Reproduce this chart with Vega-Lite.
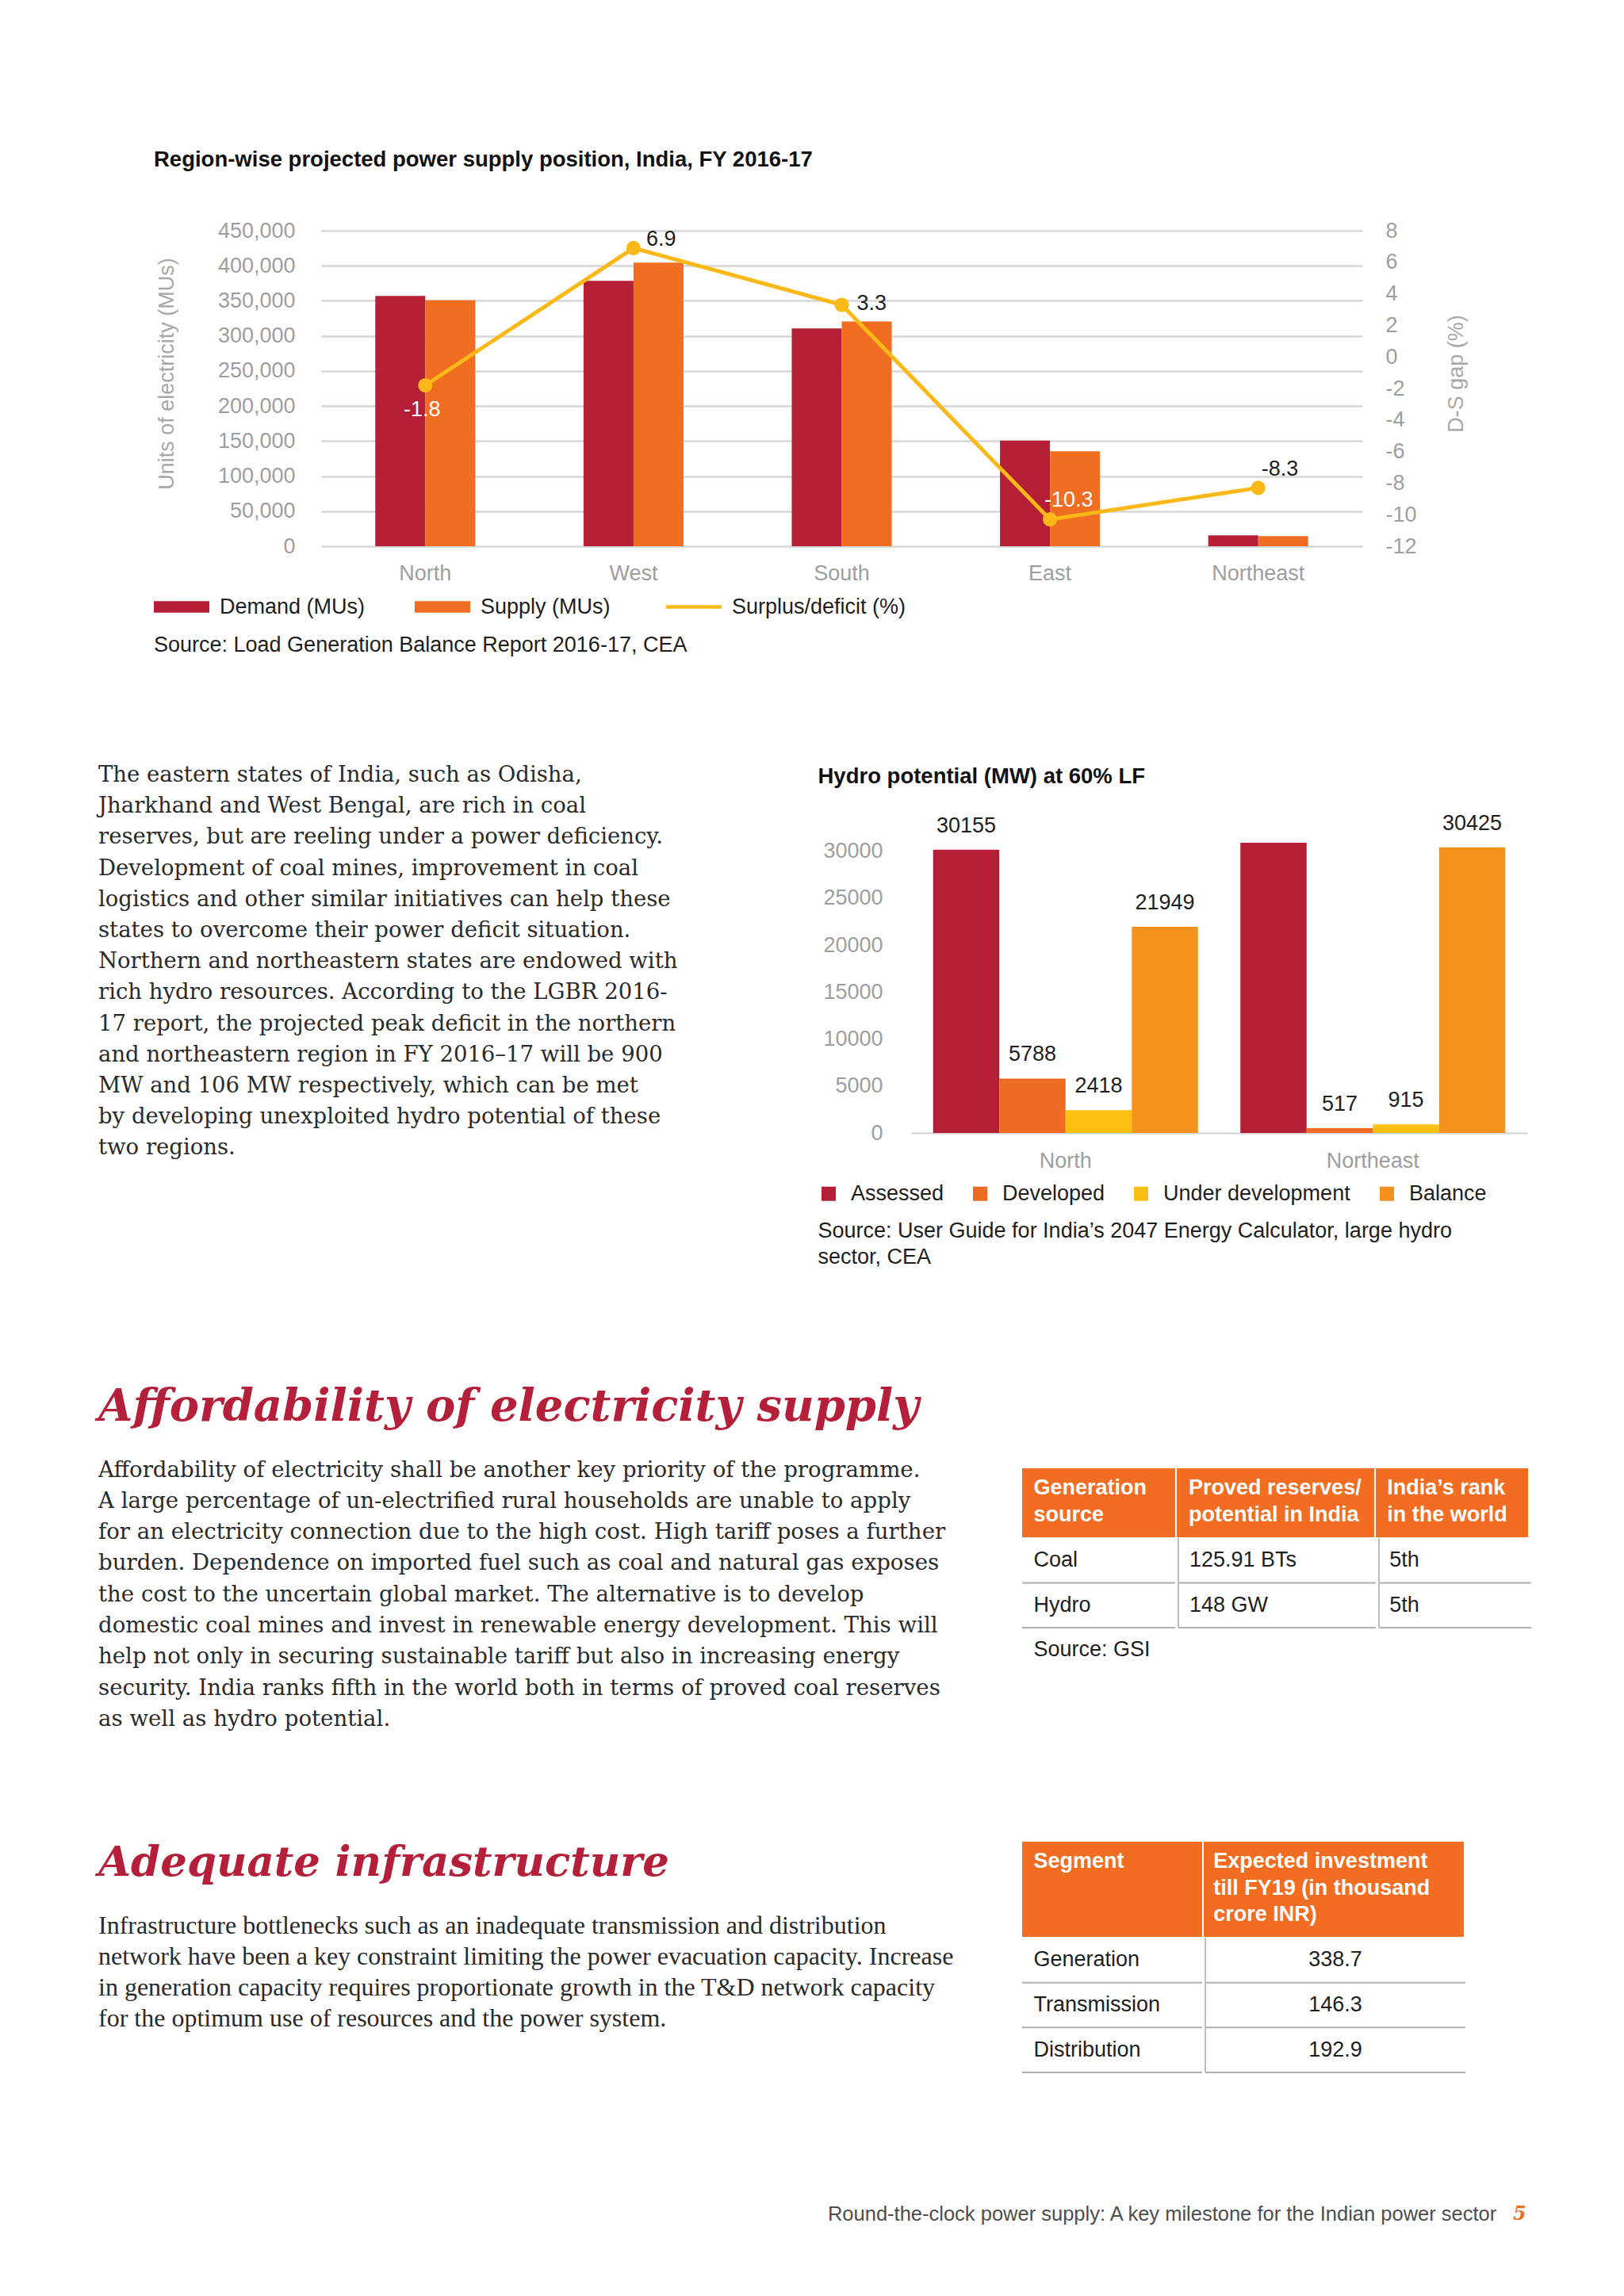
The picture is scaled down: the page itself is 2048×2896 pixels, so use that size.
{
  "$schema": "https://vega.github.io/schema/vega-lite/v6.json",
  "background": "white",
  "padding": {"left": 124, "top": 187, "right": 20, "bottom": 40},
  "config": {
    "font": "Liberation Sans",
    "view": {"stroke": null},
    "locale": {"number": {"decimal": ".", "thousands": ",", "grouping": [3], "currency": ["$", ""], "minus": "-"}}
  },
  "resolve": {"scale": {"color": "independent", "xOffset": "independent"}, "legend": {"color": "independent"}},
  "datasets": {
    "supply": [
      {"region": "North", "series": "Demand (MUs)", "value": 357000},
      {"region": "North", "series": "Supply  (MUs)", "value": 350900},
      {"region": "West", "series": "Demand (MUs)", "value": 378600},
      {"region": "West", "series": "Supply  (MUs)", "value": 404500},
      {"region": "South", "series": "Demand (MUs)", "value": 310600},
      {"region": "South", "series": "Supply  (MUs)", "value": 320400},
      {"region": "East", "series": "Demand (MUs)", "value": 150700},
      {"region": "East", "series": "Supply  (MUs)", "value": 135500},
      {"region": "Northeast", "series": "Demand (MUs)", "value": 15600},
      {"region": "Northeast", "series": "Supply  (MUs)", "value": 14300}
    ],
    "gap": [
      {"region": "North", "gap": -1.8},
      {"region": "West", "gap": 6.9},
      {"region": "South", "gap": 3.3},
      {"region": "East", "gap": -10.3},
      {"region": "Northeast", "gap": -8.3}
    ],
    "hydro": [
      {"region": "North", "category": "Assessed", "value": 30155},
      {"region": "North", "category": "Developed", "value": 5788},
      {"region": "North", "category": "Under development", "value": 2418},
      {"region": "North", "category": "Balance", "value": 21949},
      {"region": "Northeast", "category": "Assessed", "value": 30900},
      {"region": "Northeast", "category": "Developed", "value": 517},
      {"region": "Northeast", "category": "Under development", "value": 915},
      {"region": "Northeast", "category": "Balance", "value": 30425}
    ]
  },
  "spacing": 120,
  "vconcat": [
    {
      "spacing": 0,
      "resolve": {"scale": {"color": "independent", "xOffset": "independent"}, "legend": {"color": "independent"}},
      "hconcat": [
        {"width": 70, "height": 552.7, "view": {"fill": "transparent", "stroke": null}, "data": {"values": []}, "mark": "point"},
        {
          "width": 1313,
          "height": 398,
          "title": {"text": "Region-wise projected power supply position, India, FY 2016-17", "anchor": "start", "frame": "bounds", "fontSize": 27.5, "fontWeight": "bold", "color": "#111111", "offset": 62, "baseline": "top"},
          "layer": [
            {
              "data": {"name": "supply"},
              "mark": {"type": "bar"},
              "encoding": {
                "x": {"field": "region", "type": "nominal", "sort": ["North", "West", "South", "East", "Northeast"], "scale": {"paddingInner": 0.52, "paddingOuter": 0.26},
                  "axis": {"title": null, "labelAngle": 0, "labelFontSize": 27, "labelColor": "#9E9E9E", "labelPadding": 34, "labelBaseline": "middle", "domain": false, "ticks": false, "tickSize": 0, "grid": false}},
                "xOffset": {"field": "series", "type": "nominal", "sort": ["Demand (MUs)", "Supply  (MUs)"], "scale": {"paddingInner": 0, "paddingOuter": 0}},
                "y": {"field": "value", "type": "quantitative", "scale": {"domain": [0, 450000], "nice": false},
                  "axis": {"title": "Units of electricity (MUs)", "values": [0, 50000, 100000, 150000, 200000, 250000, 300000, 350000, 400000, 450000], "format": ",d", "grid": true, "gridColor": "#D6D6D6", "gridWidth": 2.5, "domain": false, "ticks": false, "tickSize": 0, "labelPadding": 33, "labelFontSize": 27, "labelColor": "#9E9E9E", "titleFontSize": 27, "titleFontWeight": "normal", "titleColor": "#A8A8A8", "titleAngle": 270, "titleX": -195, "titleY": 180, "titleBaseline": "middle", "titleAlign": "center"}},
                "color": {"field": "series", "type": "nominal",
                  "scale": {"domain": ["Demand (MUs)", "Supply  (MUs)", "Surplus/deficit (%)"], "range": ["#B41F35", "#F06D21", "#FBB817"]},
                  "legend": {"orient": "none", "legendX": -211, "legendY": 439.5, "direction": "horizontal", "padding": 0,
                    "title": "Source: Load Generation Balance Report 2016-17, CEA", "titleOrient": "bottom", "titleAnchor": "start", "titlePadding": 22.5, "titleFontSize": 27, "titleFontWeight": "normal", "titleColor": "#1E1E1E", "titleLimit": 3000,
                    "labelFontSize": 27, "labelColor": "#1E1E1E", "labelOffset": 13, "labelLimit": 1000, "columnPadding": 62,
                    "symbolSize": 4900, "symbolType": "M-1,-0.21H1V0.21H-1Z", "symbolStrokeWidth": 0, "symbolOpacity": 1,
                    "encode": {"symbols": {"update": {"shape": {"signal": "datum.value === 'Surplus/deficit (%)' ? 'M-1,-0.065H1V0.065H-1Z' : 'M-1,-0.21H1V0.21H-1Z'"}}}}}}
              }
            },
            {
              "data": {"name": "gap"},
              "encoding": {
                "x": {"field": "region", "type": "nominal", "sort": ["North", "West", "South", "East", "Northeast"],
                  "axis": {"title": null, "labelAngle": 0, "labelFontSize": 27, "labelColor": "#9E9E9E", "labelPadding": 34, "labelBaseline": "middle", "domain": false, "ticks": false, "tickSize": 0, "grid": false}},
                "y": {"field": "gap", "type": "quantitative", "scale": {"domain": [-12, 8], "nice": false, "zero": false},
                  "axis": {"orient": "right", "title": "D-S gap (%)", "values": [-12, -10, -8, -6, -4, -2, 0, 2, 4, 6, 8], "grid": false, "domain": false, "ticks": false, "tickSize": 0, "labelPadding": 29, "labelFontSize": 27, "labelColor": "#9E9E9E", "titleFontSize": 27, "titleFontWeight": "normal", "titleColor": "#A8A8A8", "titleAngle": 270, "titleX": 118, "titleY": 180, "titleBaseline": "middle", "titleAlign": "center"}}
              },
              "layer": [
                {"mark": {"type": "line", "color": "#FBB817", "strokeWidth": 5}, "encoding": {}},
                {"mark": {"type": "circle", "color": "#FBB817", "size": 330, "opacity": 1}, "encoding": {}},
                {"transform": [{"filter": "datum.region === 'West'"}], "mark": {"type": "text", "align": "left", "baseline": "middle", "dx": 16, "dy": -11, "fontSize": 27, "color": "#1E1E1E"}, "encoding": {"text": {"field": "gap", "type": "quantitative", "format": ".1f"}}},
                {"transform": [{"filter": "datum.region === 'South'"}], "mark": {"type": "text", "align": "left", "baseline": "middle", "dx": 19, "dy": -2, "fontSize": 27, "color": "#1E1E1E"}, "encoding": {"text": {"field": "gap", "type": "quantitative", "format": ".1f"}}},
                {"transform": [{"filter": "datum.region === 'Northeast'"}], "mark": {"type": "text", "align": "left", "baseline": "middle", "dx": 4, "dy": -23, "fontSize": 27, "color": "#1E1E1E"}, "encoding": {"text": {"field": "gap", "type": "quantitative", "format": ".1f"}}},
                {"transform": [{"filter": "datum.region === 'East'"}], "mark": {"type": "text", "align": "left", "baseline": "middle", "dx": -7, "dy": -24, "fontSize": 27, "color": "#FFFFFF"}, "encoding": {"text": {"field": "gap", "type": "quantitative", "format": ".1f"}}},
                {"transform": [{"filter": "datum.region === 'North'"}], "mark": {"type": "text", "align": "center", "baseline": "middle", "dx": -4, "dy": 31, "fontSize": 27, "color": "#FFFFFF"}, "encoding": {"text": {"field": "gap", "type": "quantitative", "format": ".1f"}}}
              ]
            }
          ],
          "resolve": {"scale": {"y": "independent"}}
        }
      ]
    },
    {
      "spacing": 87,
      "resolve": {"scale": {"color": "independent", "xOffset": "independent"}, "legend": {"color": "independent"}},
      "hconcat": [
        {
          "width": 820, "height": 1, "data": {"values": []}, "mark": "point",
          "title": {"text": [
            "The eastern states of India, such as Odisha,",
            "Jharkhand and West Bengal, are rich in coal",
            "reserves, but are reeling under a power deficiency.",
            "Development of coal mines, improvement in coal",
            "logistics and other similar initiatives can help these",
            "states to overcome their power deficit situation.",
            "Northern and northeastern states are endowed with",
            "rich hydro resources. According to the LGBR 2016-",
            "17 report, the projected peak deficit in the northern",
            "and northeastern region in FY 2016–17 will be 900",
            "MW and 106 MW respectively, which can be met",
            "by developing unexploited hydro potential of these",
            "two regions."],
            "orient": "bottom", "anchor": "start", "frame": "group", "font": "DejaVu Serif", "fontSize": 27.5, "fontWeight": "normal", "color": "#2A2A2A", "lineHeight": 39.2, "offset": -100, "baseline": "top"}
        },
        {
          "width": 777,
          "height": 366,
          "title": {"text": "Hydro potential (MW) at 60% LF", "anchor": "start", "frame": "bounds", "fontSize": 27.5, "fontWeight": "bold", "color": "#111111", "offset": 31.4, "baseline": "top"},
          "data": {"name": "hydro"},
          "encoding": {
            "x": {"field": "region", "type": "nominal", "sort": ["North", "Northeast"], "scale": {"paddingInner": 0.138, "paddingOuter": 0.0715},
              "axis": {"title": null, "labelAngle": 0, "labelFontSize": 27, "labelColor": "#9E9E9E", "labelPadding": 35, "labelBaseline": "middle", "domain": true, "domainColor": "#CFCFCF", "domainWidth": 2, "ticks": false, "tickSize": 0, "grid": false}},
            "xOffset": {"field": "category", "type": "nominal", "sort": ["Assessed", "Developed", "Under development", "Balance"], "scale": {"paddingInner": 0, "paddingOuter": 0}},
            "y": {"field": "value", "type": "quantitative", "scale": {"domain": [0, 30900], "nice": false},
              "axis": {"title": null, "values": [0, 5000, 10000, 15000, 20000, 25000, 30000], "format": "d", "grid": false, "domain": false, "ticks": false, "tickSize": 0, "labelPadding": 36, "labelFontSize": 27, "labelColor": "#9E9E9E"}}
          },
          "layer": [
            {
              "mark": {"type": "bar"},
              "encoding": {
                "color": {"field": "category", "type": "nominal",
                  "scale": {"domain": ["Assessed", "Developed", "Under development", "Balance"], "range": ["#B41F35", "#EF6A22", "#FDBF13", "#F5921E"]},
                  "legend": {"orient": "none", "legendX": -117.5, "legendY": 429, "direction": "horizontal", "padding": 0,
                    "title": ["Source: User Guide for India’s 2047 Energy Calculator, large hydro", "sector, CEA"], "titleOrient": "bottom", "titleAnchor": "start", "titlePadding": 21, "titleFontSize": 27, "titleFontWeight": "normal", "titleColor": "#1E1E1E", "titleLineHeight": 33, "titleLimit": 3000,
                    "labelFontSize": 27, "labelColor": "#1E1E1E", "labelOffset": 14.5, "labelLimit": 1000, "columnPadding": 32,
                    "symbolType": "square", "symbolSize": 324, "symbolStrokeWidth": 0, "symbolOpacity": 1}}
              }
            },
            {
              "transform": [{"filter": "!(datum.region === 'Northeast' && datum.category === 'Assessed')"}],
              "mark": {"type": "text", "baseline": "middle", "dy": -30, "fontSize": 27, "color": "#1E1E1E"},
              "encoding": {"text": {"field": "value", "type": "quantitative", "format": "d"}}
            }
          ]
        },
        {"width": 1, "height": 563.2, "view": {"fill": "transparent", "stroke": null}, "data": {"values": []}, "mark": "point"}
      ]
    },
    {
      "spacing": 9,
      "hconcat": [
        {
          "width": 1154.3, "height": 1, "data": {"values": []}, "mark": "point",
          "title": {"text": "Affordability of electricity supply",
            "subtitle": [
              "Affordability of electricity shall be another key priority of the programme.",
              "A large percentage of un-electrified rural households are unable to apply",
              "for an electricity connection due to the high cost. High tariff poses a further",
              "burden. Dependence on imported fuel such as coal and natural gas exposes",
              "the cost to the uncertain global market. The alternative is to develop",
              "domestic coal mines and invest in renewable energy development. This will",
              "help not only in securing sustainable tariff but also in increasing energy",
              "security. India ranks fifth in the world both in terms of proved coal reserves",
              "as well as hydro potential."],
            "orient": "bottom", "anchor": "start", "frame": "group", "font": "DejaVu Serif", "fontSize": 56, "fontStyle": "italic", "fontWeight": "bold", "color": "#B41F3A",
            "subtitleFont": "DejaVu Serif", "subtitleFontSize": 27.6, "subtitleFontWeight": "normal", "subtitleColor": "#2A2A2A", "subtitleLineHeight": 39.3, "subtitlePadding": 36.5, "offset": -104.9, "baseline": "top"}
        },
        {
          "spacing": 0,
          "vconcat": [
            {
              "spacing": 2,
              "hconcat": [
                {"width": 193, "height": 87, "view": {"fill": "#F26C22", "stroke": null},
                  "data": {"values": [{"col": "Generation source", "text": "Generation\nsource"}]},
                  "mark": {"type": "text", "align": "left", "baseline": "top", "dx": -82.1, "dy": -31.1, "fontSize": 27, "fontWeight": "bold", "color": "#FFFFFF", "lineBreak": "\n", "lineHeight": 33.2},
                  "encoding": {"x": {"field": "col", "type": "nominal", "axis": null, "scale": {"paddingInner": 0, "paddingOuter": 0}}, "y": {"field": "col", "type": "nominal", "axis": null, "scale": {"paddingInner": 0, "paddingOuter": 0}}, "text": {"field": "text"}}},
                {"width": 249, "height": 87, "view": {"fill": "#F26C22", "stroke": null},
                  "data": {"values": [{"col": "Proved reserves/potential in India", "text": "Proved reserves/\npotential in India"}]},
                  "mark": {"type": "text", "align": "left", "baseline": "top", "dx": -109.5, "dy": -31.1, "fontSize": 27, "fontWeight": "bold", "color": "#FFFFFF", "lineBreak": "\n", "lineHeight": 33.2},
                  "encoding": {"x": {"field": "col", "type": "nominal", "axis": null, "scale": {"paddingInner": 0, "paddingOuter": 0}}, "y": {"field": "col", "type": "nominal", "axis": null, "scale": {"paddingInner": 0, "paddingOuter": 0}}, "text": {"field": "text"}}},
                {"width": 192, "height": 87, "view": {"fill": "#F26C22", "stroke": null},
                  "data": {"values": [{"col": "India’s rank in the world", "text": "India’s rank\nin the world"}]},
                  "mark": {"type": "text", "align": "left", "baseline": "top", "dx": -81.7, "dy": -31.1, "fontSize": 27, "fontWeight": "bold", "color": "#FFFFFF", "lineBreak": "\n", "lineHeight": 33.2},
                  "encoding": {"x": {"field": "col", "type": "nominal", "axis": null, "scale": {"paddingInner": 0, "paddingOuter": 0}}, "y": {"field": "col", "type": "nominal", "axis": null, "scale": {"paddingInner": 0, "paddingOuter": 0}}, "text": {"field": "text"}}}
              ]
            },
            {
              "spacing": 2,
              "hconcat": [
                {"width": 193, "height": 113,
                  "data": {"values": [{"col": "Generation source", "row": "Coal", "text": "Coal"}, {"col": "Generation source", "row": "Hydro", "text": "Hydro"}]},
                  "layer": [
                    {"mark": {"type": "text", "align": "left", "baseline": "middle", "dx": -82.1, "fontSize": 27, "color": "#1E1E1E"},
                      "encoding": {"x": {"field": "col", "type": "nominal", "axis": null, "scale": {"paddingInner": 0, "paddingOuter": 0}}, "y": {"field": "row", "type": "nominal", "sort": null, "axis": null, "scale": {"paddingInner": 0, "paddingOuter": 0}}, "text": {"field": "text"}}},
                    {"mark": {"type": "rule", "color": "#AFAFAF", "strokeWidth": 2},
                      "encoding": {"y": {"field": "row", "type": "nominal", "sort": null, "bandPosition": 1, "axis": null}}}
                  ]},
                {"width": 249, "height": 113,
                  "data": {"values": [{"col": "Proved reserves/potential in India", "row": "Coal", "text": "125.91 BTs"}, {"col": "Proved reserves/potential in India", "row": "Hydro", "text": "148 GW"}]},
                  "layer": [
                    {"mark": {"type": "text", "align": "left", "baseline": "middle", "dx": -110.5, "fontSize": 27, "color": "#1E1E1E"},
                      "encoding": {"x": {"field": "col", "type": "nominal", "axis": null, "scale": {"paddingInner": 0, "paddingOuter": 0}}, "y": {"field": "row", "type": "nominal", "sort": null, "axis": null, "scale": {"paddingInner": 0, "paddingOuter": 0}}, "text": {"field": "text"}}},
                    {"mark": {"type": "rule", "color": "#AFAFAF", "strokeWidth": 2},
                      "encoding": {"y": {"field": "row", "type": "nominal", "sort": null, "bandPosition": 1, "axis": null}}},
                    {"mark": {"type": "rule", "color": "#BDBDBD", "strokeWidth": 2},
                      "encoding": {"x": {"field": "col", "type": "nominal", "bandPosition": 0, "axis": null}}}
                  ]},
                {"width": 192, "height": 113,
                  "data": {"values": [{"col": "India’s rank in the world", "row": "Coal", "text": "5th"}, {"col": "India’s rank in the world", "row": "Hydro", "text": "5th"}]},
                  "layer": [
                    {"mark": {"type": "text", "align": "left", "baseline": "middle", "dx": -82.7, "fontSize": 27, "color": "#1E1E1E"},
                      "encoding": {"x": {"field": "col", "type": "nominal", "axis": null, "scale": {"paddingInner": 0, "paddingOuter": 0}}, "y": {"field": "row", "type": "nominal", "sort": null, "axis": null, "scale": {"paddingInner": 0, "paddingOuter": 0}}, "text": {"field": "text"}}},
                    {"mark": {"type": "rule", "color": "#AFAFAF", "strokeWidth": 2},
                      "encoding": {"y": {"field": "row", "type": "nominal", "sort": null, "bandPosition": 1, "axis": null}}},
                    {"mark": {"type": "rule", "color": "#BDBDBD", "strokeWidth": 2},
                      "encoding": {"x": {"field": "col", "type": "nominal", "bandPosition": 0, "axis": null}}}
                  ]}
              ]
            },
            {"width": 10, "height": 1, "data": {"values": []}, "mark": "point",
              "title": {"text": "Source: GSI", "orient": "bottom", "anchor": "start", "frame": "group", "dx": 14.4, "offset": 13.4, "fontSize": 27, "fontWeight": "normal", "color": "#1E1E1E", "baseline": "top"}}
          ]
        },
        {"width": 1, "height": 351, "view": {"fill": "transparent", "stroke": null}, "data": {"values": []}, "mark": "point"}
      ]
    },
    {
      "spacing": 9,
      "hconcat": [
        {
          "width": 1154.3, "height": 1, "data": {"values": []}, "mark": "point",
          "title": {"text": "Adequate infrastructure",
            "subtitle": [
              "Infrastructure bottlenecks such as an inadequate transmission and distribution",
              "network have been a key constraint limiting the power evacuation capacity. Increase",
              "in generation capacity requires proportionate growth in the T&D network capacity",
              "for the optimum use of resources and the power system."],
            "orient": "bottom", "anchor": "start", "frame": "group", "font": "DejaVu Serif", "fontSize": 53, "fontStyle": "italic", "fontWeight": "bold", "color": "#B41F3A",
            "subtitleFont": "Liberation Serif", "subtitleFontSize": 32, "subtitleFontWeight": "normal", "subtitleColor": "#2A2A2A", "subtitleLineHeight": 39.3, "subtitlePadding": 36.2, "offset": 0.3, "baseline": "top"}
        },
        {
          "spacing": 0,
          "vconcat": [
            {
              "spacing": 2,
              "hconcat": [
                {"width": 227, "height": 120, "view": {"fill": "#F26C22", "stroke": null},
                  "data": {"values": [{"col": "Segment", "text": "Segment"}]},
                  "mark": {"type": "text", "align": "left", "baseline": "top", "dx": -99.1, "dy": -47.6, "fontSize": 27, "fontWeight": "bold", "color": "#FFFFFF", "lineBreak": "\n", "lineHeight": 33.2},
                  "encoding": {"x": {"field": "col", "type": "nominal", "axis": null, "scale": {"paddingInner": 0, "paddingOuter": 0}}, "y": {"field": "col", "type": "nominal", "axis": null, "scale": {"paddingInner": 0, "paddingOuter": 0}}, "text": {"field": "text"}}},
                {"width": 328, "height": 120, "view": {"fill": "#F26C22", "stroke": null},
                  "data": {"values": [{"col": "Expected investment", "text": "Expected investment\ntill FY19 (in thousand\ncrore INR)"}]},
                  "mark": {"type": "text", "align": "left", "baseline": "top", "dx": -151.7, "dy": -47.6, "fontSize": 27, "fontWeight": "bold", "color": "#FFFFFF", "lineBreak": "\n", "lineHeight": 33.2},
                  "encoding": {"x": {"field": "col", "type": "nominal", "axis": null, "scale": {"paddingInner": 0, "paddingOuter": 0}}, "y": {"field": "col", "type": "nominal", "axis": null, "scale": {"paddingInner": 0, "paddingOuter": 0}}, "text": {"field": "text"}}}
              ]
            },
            {
              "spacing": 2,
              "hconcat": [
                {"width": 227, "height": 170,
                  "data": {"values": [{"col": "Segment", "row": "Generation", "text": "Generation"}, {"col": "Segment", "row": "Transmission", "text": "Transmission"}, {"col": "Segment", "row": "Distribution", "text": "Distribution"}]},
                  "layer": [
                    {"mark": {"type": "text", "align": "left", "baseline": "middle", "dx": -99.1, "fontSize": 27, "color": "#1E1E1E"},
                      "encoding": {"x": {"field": "col", "type": "nominal", "axis": null, "scale": {"paddingInner": 0, "paddingOuter": 0}}, "y": {"field": "row", "type": "nominal", "sort": null, "axis": null, "scale": {"paddingInner": 0, "paddingOuter": 0}}, "text": {"field": "text"}}},
                    {"mark": {"type": "rule", "color": "#AFAFAF", "strokeWidth": 2},
                      "encoding": {"y": {"field": "row", "type": "nominal", "sort": null, "bandPosition": 1, "axis": null}}}
                  ]},
                {"width": 328, "height": 170,
                  "data": {"values": [{"col": "Expected investment", "row": "Generation", "text": "338.7"}, {"col": "Expected investment", "row": "Transmission", "text": "146.3"}, {"col": "Expected investment", "row": "Distribution", "text": "192.9"}]},
                  "layer": [
                    {"mark": {"type": "text", "align": "center", "baseline": "middle", "fontSize": 27, "color": "#1E1E1E"},
                      "encoding": {"x": {"field": "col", "type": "nominal", "axis": null, "scale": {"paddingInner": 0, "paddingOuter": 0}}, "y": {"field": "row", "type": "nominal", "sort": null, "axis": null, "scale": {"paddingInner": 0, "paddingOuter": 0}}, "text": {"field": "text"}}},
                    {"mark": {"type": "rule", "color": "#AFAFAF", "strokeWidth": 2},
                      "encoding": {"y": {"field": "row", "type": "nominal", "sort": null, "bandPosition": 1, "axis": null}}},
                    {"mark": {"type": "rule", "color": "#BDBDBD", "strokeWidth": 2},
                      "encoding": {"x": {"field": "col", "type": "nominal", "bandPosition": 0, "axis": null}}}
                  ]}
              ]
            }
          ]
        },
        {"width": 1, "height": 337.5, "view": {"fill": "transparent", "stroke": null}, "data": {"values": []}, "mark": "point"}
      ]
    },
    {
      "spacing": 20,
      "hconcat": [
        {"width": 1763.3, "height": 1, "data": {"values": []}, "mark": "point",
          "title": {"text": "Round-the-clock power supply: A key milestone for the Indian power sector", "orient": "bottom", "anchor": "end", "frame": "group", "fontSize": 25.5, "fontWeight": "normal", "color": "#4D4D4D", "offset": -1, "baseline": "top"}},
        {"width": 40, "height": 1, "data": {"values": []}, "mark": "point",
          "title": {"text": "5", "orient": "bottom", "anchor": "start", "frame": "group", "font": "DejaVu Serif", "fontSize": 24, "fontWeight": "bold", "fontStyle": "italic", "color": "#E8731F", "offset": -1, "baseline": "top"}}
      ]
    }
  ]
}
